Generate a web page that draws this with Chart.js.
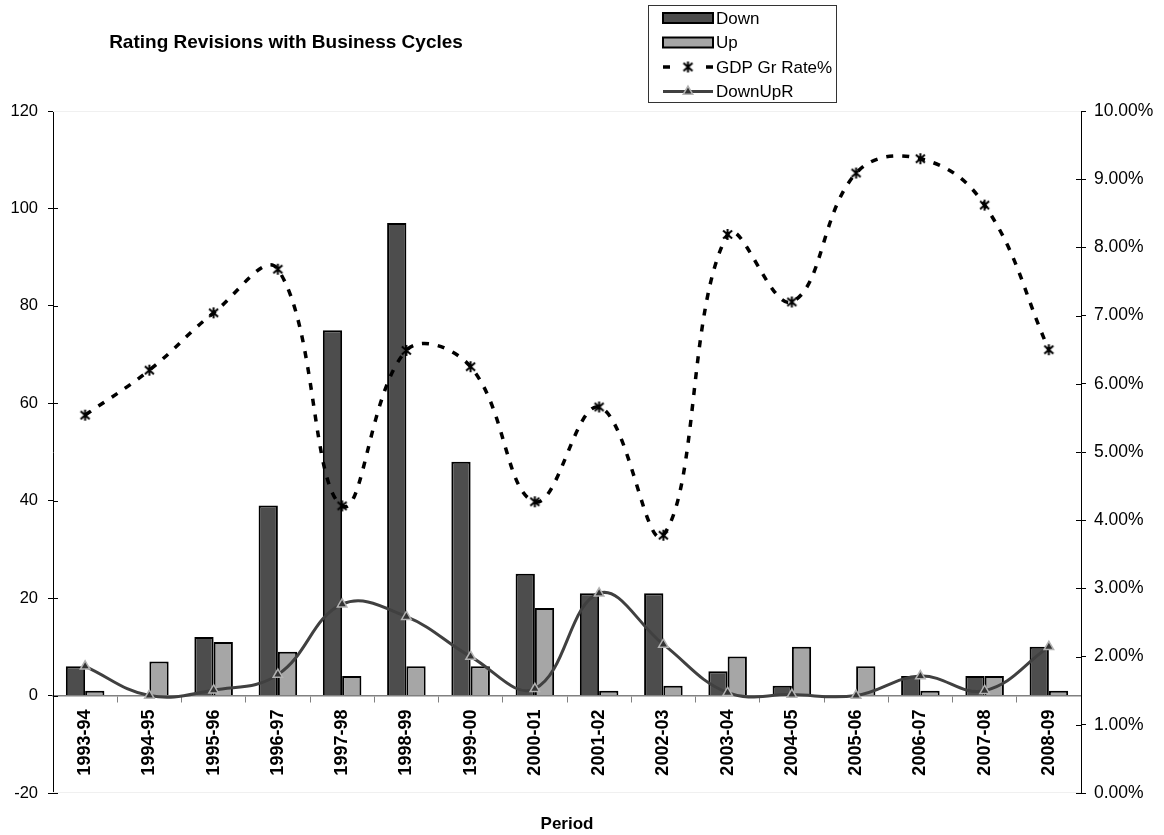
<!DOCTYPE html>
<html>
<head>
<meta charset="utf-8">
<title>Rating Revisions with Business Cycles</title>
<script src="https://cdn.jsdelivr.net/npm/chart.js@4.4.1/dist/chart.umd.min.js"></script>
<style>
  html, body { margin: 0; padding: 0; background: #fff; }
  #wrap { position: relative; width: 1164px; height: 835px; }
</style>
</head>
<body>
<div id="wrap"><canvas id="chart"></canvas></div>
<script>
// --- DATA ---
const periods = ['1993-94', '1994-95', '1995-96', '1996-97', '1997-98', '1998-99', '1999-00', '2000-01',
                 '2001-02', '2002-03', '2003-04', '2004-05', '2005-06', '2006-07', '2007-08', '2008-09'];
const downCounts = [6, 0, 12, 39, 75, 97, 48, 25, 21, 21, 5, 2, 0, 4, 4, 10];
const upCounts = [1, 7, 11, 9, 4, 6, 6, 18, 1, 2, 8, 10, 6, 1, 4, 1];
const gdpGrowth = [5.54, 6.20, 7.04, 7.68, 4.21, 6.49, 6.25, 4.27, 5.66, 3.78, 8.19, 7.20, 9.09, 9.30, 8.62, 6.50];
const downUpRatio = [6, 0, 1.1, 4.3, 18.75, 16.2, 8, 1.4, 21, 10.5, 0.6, 0.2, 0, 4, 1, 10];
const seriesNames = ['Down', 'Up', 'GDP Gr Rate%', 'DownUpR'];
const countAxis = [-20, 120, 20];   // min, max, step
const gdpAxis = [0, 10, 1];         // min, max, step (percent)

const FONT = '"Liberation Sans", Arial, Helvetica, sans-serif';
const DOWN_FILL = '#4d4d4d';
const UP_FILL = '#a6a6a6';
const RATIO_LINE = '#404040';

// six-spoke asterisk used as the GDP marker
function makeAsterisk() {
    const c = document.createElement('canvas');
    c.width = 13; c.height = 13;
    const g = c.getContext('2d');
    g.strokeStyle = '#000';
    g.lineWidth = 2;
    g.lineCap = 'butt';
    g.beginPath();
    g.moveTo(6.5, 1); g.lineTo(6.5, 12);
    g.moveTo(2, 2.5); g.lineTo(11, 10.5);
    g.moveTo(11, 2.5); g.lineTo(2, 10.5);
    g.stroke();
    return c;
}
const asterisk = makeAsterisk();

// title, boxed legend, and the inner half of the axis tick marks
const decorPlugin = {
    id: 'decor',
    afterDraw(chart) {
        const ctx = chart.ctx;
        ctx.save();

        ctx.fillStyle = '#000';
        ctx.textAlign = 'center';
        ctx.textBaseline = 'middle';
        ctx.font = 'bold 19px ' + FONT;
        ctx.fillText('Rating Revisions with Business Cycles', 286, 43);

        // inner ticks on both value axes
        ['y', 'y1'].forEach(id => {
            const s = chart.scales[id];
            const x = id === 'y' ? s.right : s.left;
            const dir = id === 'y' ? 1 : -1;
            ctx.strokeStyle = '#000';
            ctx.lineWidth = 1;
            s.ticks.forEach((t, i) => {
                const y = Math.round(s.getPixelForTick(i)) + 0.5;
                ctx.beginPath();
                ctx.moveTo(x, y);
                ctx.lineTo(x + dir * 5, y);
                ctx.stroke();
            });
        });

        // faint plot-area edges
        const a = chart.chartArea;
        ctx.strokeStyle = '#f0f0f0';
        ctx.lineWidth = 1;
        ctx.beginPath();
        ctx.moveTo(a.left, a.top + 0.5); ctx.lineTo(a.right, a.top + 0.5);
        ctx.moveTo(a.left, a.bottom - 0.5); ctx.lineTo(a.right, a.bottom - 0.5);
        ctx.stroke();

        // legend
        const lx = 648, ly = 5, lw = 188, lh = 97;
        ctx.fillStyle = '#fff';
        ctx.fillRect(lx, ly, lw, lh);
        ctx.strokeStyle = '#333';
        ctx.lineWidth = 1;
        ctx.strokeRect(lx + 0.5, ly + 0.5, lw, lh);

        const sx = 663, sw = 50, rowH = 24.5, firstRow = 18;
        const ds = chart.data.datasets;
        seriesNames.forEach((name, i) => {
            const cy = firstRow + i * rowH;
            const d = ds.find(x => x.label === name);
            if (d.type === 'bar') {
                ctx.fillStyle = d.backgroundColor;
                ctx.fillRect(sx, cy - 5, sw, 10);
                ctx.strokeStyle = '#000';
                ctx.lineWidth = d.borderWidth;
                ctx.strokeRect(sx, cy - 5, sw, 10);
            } else {
                ctx.strokeStyle = d.borderColor;
                ctx.lineWidth = d.borderWidth;
                ctx.beginPath();
                if (d.borderDash) {
                    ctx.moveTo(sx, cy); ctx.lineTo(sx + 7, cy);
                    ctx.moveTo(sx + sw - 7, cy); ctx.lineTo(sx + sw, cy);
                } else {
                    ctx.moveTo(sx, cy); ctx.lineTo(sx + sw, cy);
                }
                ctx.stroke();
                ctx.fillStyle = d.pointBackgroundColor;
                ctx.strokeStyle = d.pointBorderColor;
                ctx.lineWidth = d.pointBorderWidth;
                Chart.helpers.drawPoint(ctx, {
                    pointStyle: d.pointStyle, radius: d.pointRadius, rotation: 0,
                    borderWidth: d.pointBorderWidth
                }, sx + sw / 2, cy);
            }
            ctx.fillStyle = '#000';
            ctx.textAlign = 'left';
            ctx.font = '17px ' + FONT;
            ctx.fillText(name, sx + sw + 3, cy + 1);
        });

        ctx.restore();
    }
};

new Chart(document.getElementById('chart'), {
    type: 'bar',
    data: {
        labels: periods,
        datasets: [
            {
                type: 'bar', label: seriesNames[0], data: downCounts, yAxisID: 'y', order: 3,
                backgroundColor: DOWN_FILL, borderColor: '#000', borderWidth: 2,
                categoryPercentage: 0.6, barPercentage: 1.0
            },
            {
                type: 'bar', label: seriesNames[1], data: upCounts, yAxisID: 'y', order: 3,
                backgroundColor: UP_FILL, borderColor: '#000', borderWidth: 2,
                categoryPercentage: 0.6, barPercentage: 1.0
            },
            {
                type: 'line', label: seriesNames[2], data: gdpGrowth, yAxisID: 'y1', order: 1,
                borderColor: '#000', borderWidth: 3.5, borderDash: [7, 9], tension: 0.4, fill: false,
                pointStyle: asterisk, pointRadius: 6, pointBorderWidth: 2,
                pointBorderColor: '#000', pointBackgroundColor: '#000'
            },
            {
                type: 'line', label: seriesNames[3], data: downUpRatio, yAxisID: 'y', order: 0,
                borderColor: RATIO_LINE, borderWidth: 3, tension: 0.4, fill: false,
                pointStyle: 'triangle', pointRadius: 5.5, pointBorderWidth: 1.5,
                pointBorderColor: '#b3b3b3', pointBackgroundColor: '#333'
            }
        ]
    },
    options: {
        responsive: true,
        maintainAspectRatio: false,
        animation: false,
        layout: { padding: { top: 111, bottom: 42, left: 0, right: 0 } },
        plugins: {
            legend: { display: false },
            title: { display: false },
            tooltip: { enabled: false }
        },
        scales: {
            x: {
                position: { y: 0 },
                grid: { display: true, drawOnChartArea: false, offset: true, tickLength: 6, color: '#808080' },
                border: { color: '#808080', width: 1.5 },
                ticks: {
                    autoSkip: false, minRotation: 90, maxRotation: 90, padding: 8, color: '#000',
                    font: { family: FONT, size: 18, weight: 'bold' }
                },
                title: {
                    display: true, text: 'Period', color: '#000',
                    font: { family: FONT, size: 17, weight: 'bold' },
                    padding: { top: 30, bottom: 0 }
                }
            },
            y: {
                position: 'left',
                min: countAxis[0], max: countAxis[1],
                ticks: { stepSize: countAxis[2], padding: 10, color: '#000', font: { family: FONT, size: 16.5 } },
                grid: { drawOnChartArea: false, tickLength: 5, color: '#000' },
                border: { color: '#000', width: 1 },
                afterFit: s => { s.width = 53; }
            },
            y1: {
                position: 'right',
                min: gdpAxis[0], max: gdpAxis[1],
                ticks: {
                    stepSize: gdpAxis[2], padding: 8, color: '#000',
                    font: { family: FONT, size: 17.5 },
                    callback: v => v.toFixed(2) + '%'
                },
                grid: { drawOnChartArea: false, tickLength: 5, color: '#000' },
                border: { color: '#000', width: 1 },
                afterFit: s => { s.width = 83; }
            }
        }
    },
    plugins: [decorPlugin]
});
</script>
</body>
</html>
